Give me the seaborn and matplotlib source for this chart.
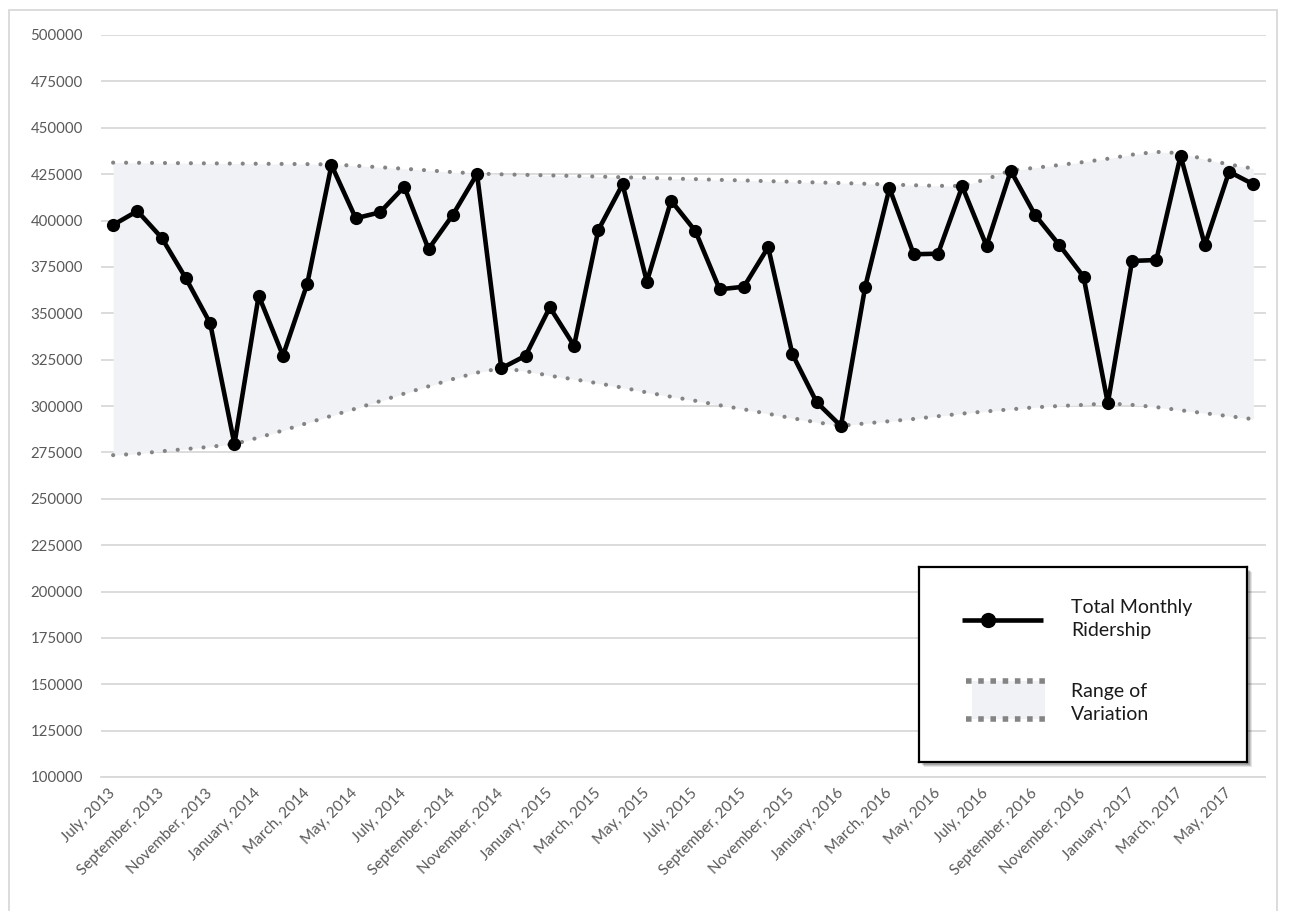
import matplotlib
matplotlib.use("Agg")
import matplotlib.pyplot as plt
from matplotlib.patches import Rectangle
from matplotlib.lines import Line2D
import numpy as np
import pandas as pd
import seaborn as sns

# Monthly ridership, July 2013 .. June 2017
ridership = [397600, 405100, 390700, 368800, 344600, 279500, 359500, 327100,
             365800, 429900, 401200, 404400, 418200, 384600, 403000, 425100,
             320300, 327100, 353200, 332500, 394900, 419500, 367000, 410700,
             394300, 362900, 364300, 385600, 327900, 302000, 289200, 364300,
             417400, 381800, 382100, 418400, 386400, 426800, 403000, 386800,
             369700, 301500, 378200, 378700, 434900, 386800, 426300, 419500]

# Upper and lower bounds of the range of variation, per month
upper_bound = [431200, 431100, 431000, 430900, 430800, 430700, 430600, 430500,
               430400, 430200, 429500, 428700, 427900, 427000, 426100, 425300,
               424900, 424600, 424300, 424000, 423700, 423300, 423000, 422600,
               422300, 421900, 421600, 421200, 420900, 420500, 420200, 419800,
               419400, 419000, 418700, 418600, 422300, 427000, 428400, 429900,
               431500, 433300, 435500, 437000, 436300, 433000, 430200, 428000]
lower_bound = [273500, 274200, 275600, 276800, 278000, 279500, 283000, 286800,
               290800, 294700, 298600, 302600, 306700, 310600, 314500, 318000,
               320300, 318800, 316300, 314400, 312200, 309900, 307300, 305000,
               302800, 300400, 298200, 295800, 293400, 291200, 289300, 290600,
               291800, 293000, 294500, 295900, 297100, 298200, 299300, 300000,
               300600, 301400, 300600, 299400, 297700, 296100, 294500, 292900]

# Axis labels, one for every second month
tick_labels = ["July, 2013", "September, 2013", "November, 2013", "January, 2014",
               "March, 2014", "May, 2014", "July, 2014", "September, 2014",
               "November, 2014", "January, 2015", "March, 2015", "May, 2015",
               "July, 2015", "September, 2015", "November, 2015", "January, 2016",
               "March, 2016", "May, 2016", "July, 2016", "September, 2016",
               "November, 2016", "January, 2017", "March, 2017", "May, 2017"]
y_ticks = list(range(100000, 500001, 25000))

legend_line_label = "Total Monthly\nRidership"
legend_range_label = "Range of\nVariation"

sns.set_theme(style="white")
plt.rcParams["font.family"] = ["Lato", "DejaVu Sans"]

W, H = 1293, 911
fig = plt.figure(figsize=(W / 100, H / 100), dpi=100)
fig.patch.set_facecolor("white")

ax = fig.add_axes([101 / W, 134 / H, 1164.5 / W, 742 / H])

df = pd.DataFrame({
    "month": np.arange(len(ridership)),
    "ridership": ridership,
    "upper": upper_bound,
    "lower": lower_bound,
})

FILL = "#f1f2f6"
DOT = "#848484"

ax.fill_between(df["month"], df["lower"], df["upper"], color=FILL, lw=0, zorder=1)
for col in ["upper", "lower"]:
    sns.lineplot(data=df, x="month", y=col, ax=ax, color=DOT, lw=3.0,
                 linestyle=(0, (0.01, 3.1)), dash_capstyle="round", zorder=2)
sns.lineplot(data=df, x="month", y="ridership", ax=ax, color="black", lw=3.3,
             marker="o", markersize=9.5, markeredgewidth=0, zorder=4)

ax.set_xlim(-0.5, len(ridership) - 0.5)
ax.set_ylim(y_ticks[0], y_ticks[-1])
ax.set_yticks(y_ticks)
ax.set_yticklabels([str(v) for v in y_ticks])
ax.set_xticks(np.arange(0, len(ridership), 2))
ax.set_xticklabels(tick_labels)
ax.set_xticks(np.arange(-0.5, len(ridership), 1), minor=True)
ax.set_xlabel("")
ax.set_ylabel("")

ax.yaxis.grid(True, color="#d9d9d9", lw=1.3)
ax.xaxis.grid(False)
ax.set_axisbelow(True)
for s in ["top", "right", "left"]:
    ax.spines[s].set_visible(False)
ax.spines["bottom"].set_color("#d9d9d9")
ax.spines["bottom"].set_linewidth(1.3)
ax.spines["bottom"].set_zorder(0.5)

ax.tick_params(axis="y", length=0, pad=13, labelsize=10.8, labelcolor="#595959")
ax.tick_params(axis="x", which="major", length=0, pad=10, labelsize=11,
               labelcolor="#595959")
ax.tick_params(axis="x", which="minor", length=5, width=1.2, color="#d9d9d9",
               direction="out")
for lab in ax.get_xticklabels():
    lab.set_rotation(45)
    lab.set_ha("right")
    lab.set_va("center")
    lab.set_rotation_mode("anchor")

# Chart border
fig.add_artist(Line2D([9 / W, 9 / W], [0, (H - 10) / H], color="#d9d9d9",
                      lw=1.3, transform=fig.transFigure))
fig.add_artist(Line2D([9 / W, 1277 / W], [(H - 10) / H, (H - 10) / H],
                      color="#d9d9d9", lw=1.3, transform=fig.transFigure))
fig.add_artist(Line2D([1277 / W, 1277 / W], [0, (H - 10) / H], color="#d9d9d9",
                      lw=1.3, transform=fig.transFigure))

# Legend box with drop shadow
lx0, ly0, lw_, lh_ = 919, 567, 328, 195
for k, a in enumerate([0.10, 0.12, 0.16]):
    off = 5 - k
    fig.add_artist(Rectangle(((lx0 + off) / W, (H - ly0 - lh_ - off) / H),
                             lw_ / W, lh_ / H, transform=fig.transFigure,
                             facecolor="black", alpha=a, lw=0, zorder=5))
lax = fig.add_axes([lx0 / W, (H - ly0 - lh_) / H, lw_ / W, lh_ / H], zorder=6)
lax.set_xlim(0, lw_)
lax.set_ylim(lh_, 0)
lax.set_xticks([])
lax.set_yticks([])
lax.set_facecolor("white")
for s in lax.spines.values():
    s.set_color("black")
    s.set_linewidth(1.6)

lax.plot([43, 124], [53, 53], color="black", lw=3.3, solid_capstyle="butt")
lax.plot([69], [53], marker="o", color="black", markersize=11, markeredgewidth=0)
lax.add_patch(Rectangle((53, 114), 73, 38, facecolor=FILL, lw=0))
for yy in [114, 152]:
    lax.plot([47, 127], [yy, yy], color=DOT, lw=4.0,
             linestyle=(0, (1.0, 1.2)), dash_capstyle="butt")
lax.text(152, 52, legend_line_label, fontsize=14, color="#1a1a1a",
         va="center", ha="left", linespacing=1.45)
lax.text(152, 136, legend_range_label, fontsize=14, color="#1a1a1a",
         va="center", ha="left", linespacing=1.45)

fig.savefig("out.png", dpi=100, facecolor="white")
